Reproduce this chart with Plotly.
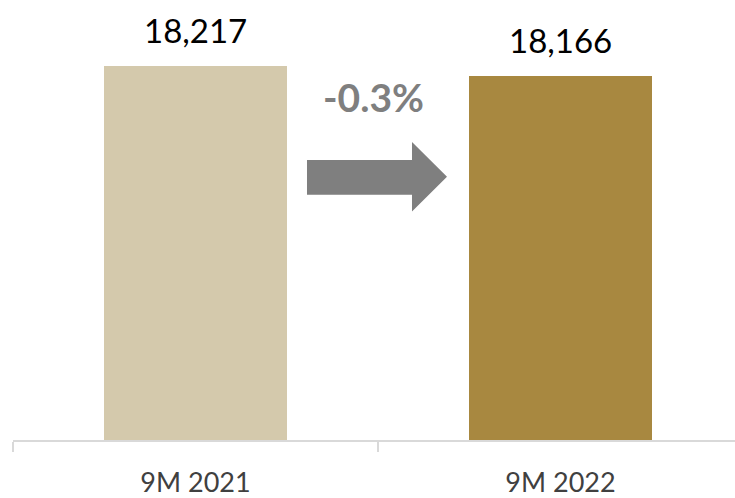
import plotly.graph_objects as go

# Data
periods = ["9M 2021", "9M 2022"]
values = [18217, 18166]
bar_colors = ["#D4C9AC", "#A88840"]

FONT = "Source Sans Pro, Lato, Open Sans, sans-serif"
W, H = 735, 498
ML, MR, MT, MB = 13, 0, 0, 55
plot_w = W - ML - MR
plot_h = H - MT - MB

# value axis is truncated (does not start at zero)
y_min = 16300
px_per_unit = 377 / (values[0] - y_min)
y_max = y_min + plot_h / px_per_unit

cat_px = 365  # pixels per category slot
x_range = [-0.5, -0.5 + plot_w / cat_px]

fig = go.Figure()
fig.add_trace(go.Bar(
    x=periods,
    y=values,
    marker=dict(color=bar_colors, line=dict(width=0)),
    width=183 / cat_px,
    hoverinfo="skip",
))

# value labels above bars
for p, v in zip(periods, values):
    fig.add_annotation(
        x=p, y=v, xref="x", yref="y",
        text=f"{v:,}", showarrow=False,
        yanchor="bottom", yshift=14,
        font=dict(family=FONT, size=33, color="#000000"),
    )

# change annotation and arrow between the bars
change = (values[1] / values[0] - 1) * 100


def px_to_paper(px, py):
    return (px - ML) / plot_w, (H - MB - py) / plot_h


cx, cy = px_to_paper(373.5, 98)
fig.add_annotation(
    x=cx, y=cy, xref="paper", yref="paper",
    text=f"<b>{change:.1f}%</b>", showarrow=False,
    xanchor="center", yanchor="middle",
    font=dict(family=FONT, size=39, color="#7F7F7F"),
)

arrow_pts = [(307, 161), (412, 161), (412, 143), (447, 178),
             (412, 213), (412, 196), (307, 196)]
path = ""
for i, (px, py) in enumerate(arrow_pts):
    ax, ay = px_to_paper(px, py)
    path += ("M" if i == 0 else "L") + f"{ax:.5f},{ay:.5f} "
path += "Z"
fig.add_shape(type="path", path=path, xref="paper", yref="paper",
              fillcolor="#7F7F7F", line=dict(width=0))

fig.update_layout(
    width=W, height=H,
    margin=dict(l=ML, r=MR, t=MT, b=MB, pad=0),
    paper_bgcolor="white", plot_bgcolor="white",
    showlegend=False,
    bargap=0,
    xaxis=dict(
        type="category", range=x_range,
        showline=True, linecolor="#D9D9D9", linewidth=2,
        ticks="outside", tickson="boundaries", ticklen=10,
        tickcolor="#D9D9D9", tickwidth=2,
        tickfont=dict(family=FONT, size=27, color="#404040"),
        showgrid=False, zeroline=False,
        ticklabelstandoff=18,
    ),
    yaxis=dict(
        range=[y_min, y_max], visible=False,
        showgrid=False, zeroline=False,
    ),
)

fig.write_html("out.html")
